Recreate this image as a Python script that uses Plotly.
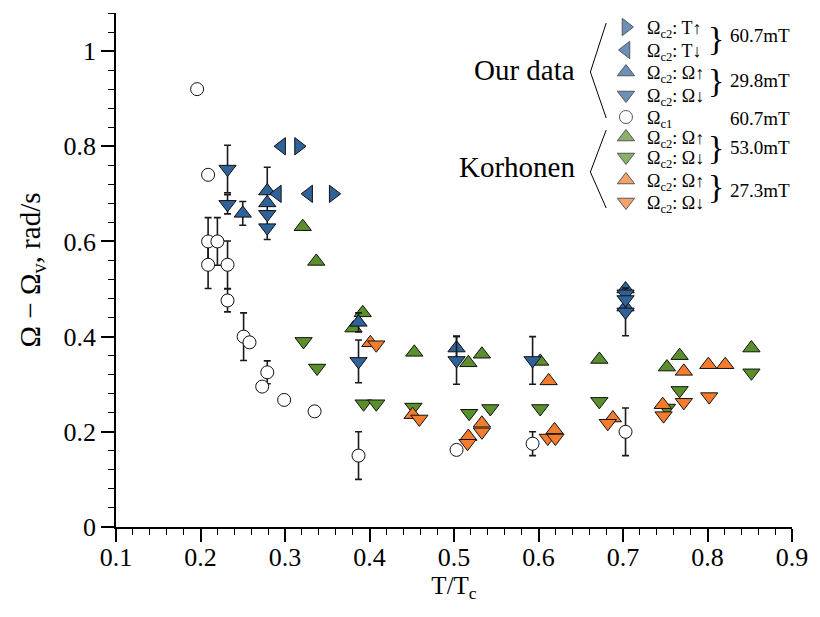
import plotly.graph_objects as go

# ---------------- data ----------------
# Our data, 60.7 mT, Omega_c2 on temperature sweep
tup_x = [0.316, 0.357]
tup_y = [0.80, 0.70]
tdn_x = [0.296, 0.291, 0.328]
tdn_y = [0.80, 0.70, 0.70]

# Our data, 29.8 mT, Omega_c2 on rotation sweep
oup_x = [0.250, 0.279, 0.279, 0.387, 0.503, 0.703, 0.703]
oup_y = [0.659, 0.706, 0.681, 0.430, 0.376, 0.500, 0.462]
oup_e = [0.025, 0.050, 0.0, 0.020, 0.025, 0.0, 0.0]
odn_x = [0.232, 0.232, 0.279, 0.279, 0.387, 0.503, 0.593, 0.703, 0.703, 0.703]
odn_y = [0.752, 0.678, 0.657, 0.629, 0.348, 0.350, 0.350, 0.490, 0.478, 0.452]
odn_e = [0.050, 0.020, 0.0, 0.025, 0.045, 0.050, 0.050, 0.0, 0.0, 0.050]

# Our data, Omega_c1, 60.7 mT
c1_x = [0.196, 0.209, 0.209, 0.220, 0.209, 0.232, 0.232, 0.251, 0.258, 0.279,
        0.273, 0.299, 0.335, 0.387, 0.503, 0.593, 0.703]
c1_y = [0.920, 0.740, 0.600, 0.600, 0.551, 0.551, 0.476, 0.400, 0.388, 0.325,
        0.295, 0.267, 0.243, 0.150, 0.162, 0.175, 0.200]
c1_e = [0.0, 0.0, 0.050, 0.050, 0.050, 0.050, 0.024, 0.050, 0.0, 0.024,
        0.0, 0.0, 0.0, 0.050, 0.0, 0.025, 0.050]

# Korhonen, 53.0 mT
g_up_x = [0.321, 0.337, 0.392, 0.381, 0.453, 0.517, 0.533, 0.602, 0.672, 0.752, 0.767, 0.852]
g_up_y = [0.631, 0.558, 0.450, 0.418, 0.367, 0.345, 0.363, 0.348, 0.352, 0.336, 0.360, 0.376]
g_dn_x = [0.322, 0.338, 0.393, 0.408, 0.452, 0.518, 0.543, 0.602, 0.672, 0.752, 0.767, 0.852]
g_dn_y = [0.390, 0.334, 0.259, 0.259, 0.252, 0.239, 0.249, 0.249, 0.264, 0.250, 0.287, 0.324]

# Korhonen, 27.3 mT
o_up_x = [0.401, 0.451, 0.517, 0.533, 0.612, 0.619, 0.688, 0.747, 0.772, 0.801, 0.821]
o_up_y = [0.387, 0.236, 0.190, 0.218, 0.307, 0.204, 0.229, 0.257, 0.327, 0.341, 0.341]
o_dn_x = [0.408, 0.459, 0.516, 0.533, 0.611, 0.620, 0.682, 0.748, 0.772, 0.802]
o_dn_y = [0.383, 0.227, 0.176, 0.200, 0.187, 0.187, 0.218, 0.234, 0.262, 0.274]

x_ticks = [0.1, 0.2, 0.3, 0.4, 0.5, 0.6, 0.7, 0.8, 0.9]
x_tick_text = ["0.1", "0.2", "0.3", "0.4", "0.5", "0.6", "0.7", "0.8", "0.9"]
y_ticks = [0, 0.2, 0.4, 0.6, 0.8, 1]
y_tick_text = ["0", "0.2", "0.4", "0.6", "0.8", "1"]

legend_labels = ["Ω<sub>c2</sub>: T↑", "Ω<sub>c2</sub>: T↓", "Ω<sub>c2</sub>: Ω↑",
                 "Ω<sub>c2</sub>: Ω↓", "Ω<sub>c1</sub>", "Ω<sub>c2</sub>: Ω↑",
                 "Ω<sub>c2</sub>: Ω↓", "Ω<sub>c2</sub>: Ω↑", "Ω<sub>c2</sub>: Ω↓"]
field_labels = ["60.7mT", "29.8mT", "60.7mT", "53.0mT", "27.3mT"]
group_labels = ["Our data", "Korhonen"]

# ---------------- style ----------------
BLUE = "#2E6299"
GREEN = "#5B8F2C"
ORANGE = "#F47C2C"
FONT = "Liberation Serif"
EB = dict(type="data", symmetric=True, color="#1a1a1a", thickness=1.6, width=3.5)
MS = 15

fig = go.Figure()


def add(x, y, symbol, color, err=None, size=MS):
    kw = {}
    if err is not None:
        kw["error_y"] = dict(array=err, visible=True, **EB)
    fig.add_trace(go.Scatter(
        x=x, y=y, mode="markers",
        marker=dict(symbol=symbol, size=size, color=color,
                    line=dict(color="#111", width=1)),
        showlegend=False, cliponaxis=False, **kw))


add(c1_x, c1_y, "circle", "white", c1_e, size=13)
add(g_up_x, g_up_y, "triangle-up", GREEN)
add(g_dn_x, g_dn_y, "triangle-down", GREEN)
add(o_up_x, o_up_y, "triangle-up", ORANGE)
add(o_dn_x, o_dn_y, "triangle-down", ORANGE)
add(oup_x, oup_y, "triangle-up", BLUE, oup_e)
add(odn_x, odn_y, "triangle-down", BLUE, odn_e)
add(tup_x, tup_y, "triangle-right", BLUE)
add(tdn_x, tdn_y, "triangle-left", BLUE)

# ---------------- custom legend (overlay axes in pixel units) ----------------
leg_rows = [27, 50, 72, 95, 117, 137, 157, 180, 202]
leg_syms = ["triangle-right", "triangle-left", "triangle-up", "triangle-down", "circle",
            "triangle-up", "triangle-down", "triangle-up", "triangle-down"]
leg_cols = [BLUE, BLUE, BLUE, BLUE, "white", GREEN, GREEN, ORANGE, ORANGE]
leg_x = 632
fig.add_trace(go.Scatter(
    x=[leg_x] * len(leg_rows), y=leg_rows, xaxis="x2", yaxis="y2", mode="markers",
    marker=dict(symbol=leg_syms, size=[MS] * 4 + [13] + [MS] * 4, color=leg_cols,
                line=dict(color="#111", width=1)),
    showlegend=False, hoverinfo="skip", cliponaxis=False))

annotations = []
for yy, lab in zip(leg_rows, legend_labels):
    annotations.append(dict(x=651, y=yy + 2, xref="x2", yref="y2", text=lab,
                            showarrow=False, xanchor="left", yanchor="middle",
                            font=dict(family=FONT, size=18, color="black")))
field_y = [35, 80, 118, 147, 190]
for yy, lab in zip(field_y, field_labels):
    annotations.append(dict(x=735, y=yy, xref="x2", yref="y2", text=lab,
                            showarrow=False, xanchor="left", yanchor="middle",
                            font=dict(family=FONT, size=19, color="black")))
for yy in [38, 80, 147, 186]:
    annotations.append(dict(x=713, y=yy, xref="x2", yref="y2", text="}",
                            showarrow=False, xanchor="left", yanchor="middle",
                            font=dict(family=FONT, size=34, color="black")))
for yy, lab in zip([70, 167], group_labels):
    annotations.append(dict(x=582, y=yy, xref="x2", yref="y2", text=lab,
                            showarrow=False, xanchor="right", yanchor="middle",
                            font=dict(family=FONT, size=29, color="black")))

shapes = []
for top, mid, bot in [(23, 72, 118), (130, 172, 208)]:
    shapes.append(dict(type="path", xref="x2", yref="y2",
                       path=f"M 612 {top} L 596 {mid} L 612 {bot}",
                       line=dict(color="black", width=1)))

TICKFONT = dict(family=FONT, size=26, color="black")
axis_common = dict(
    showline=True, linecolor="black", linewidth=1.5, mirror=False,
    showgrid=False, zeroline=False, ticks="outside", tickcolor="black",
    ticklen=13, tickwidth=1.5, tickfont=TICKFONT,
)

fig.update_layout(
    width=820, height=617,
    margin=dict(l=116, r=20, t=13, b=90),
    paper_bgcolor="white", plot_bgcolor="white",
    font=dict(family=FONT, color="black", size=24),
    xaxis=dict(range=[0.1, 0.9], tickmode="array", tickvals=x_ticks,
               ticktext=x_tick_text, ticklabelstandoff=-7,
               minor=dict(dtick=0.02, tick0=0.1, ticks="outside", ticklen=6,
                          tickcolor="black", tickwidth=1.2),
               title=dict(text="T/T<sub>c</sub>", font=dict(family=FONT, size=25),
                          standoff=2),
               **axis_common),
    yaxis=dict(range=[0, 1.08], tickmode="array", tickvals=y_ticks,
               ticktext=y_tick_text,
               minor=dict(dtick=0.04, tick0=0, ticks="outside", ticklen=6,
                          tickcolor="black", tickwidth=1.2),
               title=dict(text="Ω − Ω<sub>v</sub>, rad/s", font=dict(family=FONT, size=29),
                          standoff=14),
               **axis_common),
    xaxis2=dict(overlaying="x", range=[116, 800], visible=False, anchor="y2"),
    yaxis2=dict(overlaying="y", range=[527, 13], visible=False, anchor="x2"),
    annotations=annotations,
    shapes=shapes,
)

fig.write_html("out.html")
